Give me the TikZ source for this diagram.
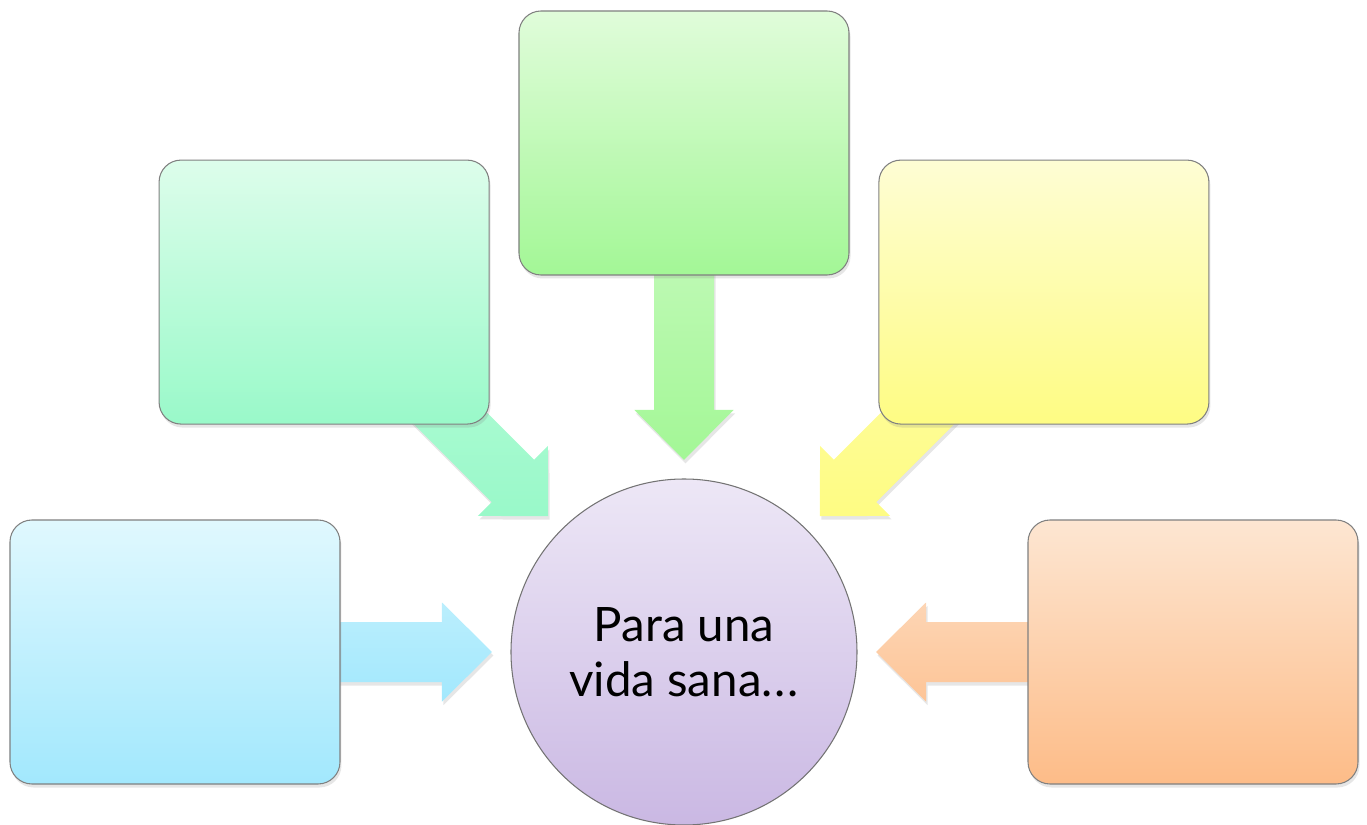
\documentclass[tikz,border=0pt]{standalone}
\usepackage{fontspec}
\setmainfont{Lato}
\usetikzlibrary{positioning,calc,shadows,backgrounds}

\definecolor{azultop}{HTML}{E0F8FE}
\definecolor{azulbot}{HTML}{A2E8FD}
\definecolor{mentatop}{HTML}{DDFDEB}
\definecolor{mentabot}{HTML}{99F9C9}
\definecolor{verdetop}{HTML}{E0FCDA}
\definecolor{verdebot}{HTML}{A3F796}
\definecolor{amartop}{HTML}{FEFDD4}
\definecolor{amarbot}{HTML}{FEFC83}
\definecolor{naratop}{HTML}{FDE6D2}
\definecolor{narabot}{HTML}{FDBC88}
\definecolor{lilatop}{HTML}{EDE7F6}
\definecolor{lilabot}{HTML}{CAB8E3}

\begin{document}
\begin{tikzpicture}[
                caja/.style={rectangle, rounded corners=0.44cm, minimum width=6.6cm, minimum height=5.28cm, draw=black!50, line width=0.6pt,
                    drop shadow={opacity=0.2, shadow xshift=0.03cm, shadow yshift=-0.07cm}},
                circulo/.style={circle, minimum size=6.92cm, draw=black!55, line width=0.6pt, top color=lilatop, bottom color=lilabot,
                    font=\fontsize{27}{31}\selectfont, align=center},
                flecha/.style={drop shadow={opacity=0.2, shadow xshift=0.03cm, shadow yshift=-0.07cm},
                    to path={let \p1=($(\tikztotarget)-(\tikztostart)$), \n1={atan2(\y1,\x1)} in
                    ($(\tikztostart)+(\n1+90:0.6)$)
                    -- ($(\tikztotarget)+(\n1+180:1)+(\n1+90:0.6)$)
                    -- ($(\tikztotarget)+(\n1+180:1)+(\n1+90:0.99)$)
                    -- (\tikztotarget)
                    -- ($(\tikztotarget)+(\n1+180:1)+(\n1-90:0.99)$)
                    -- ($(\tikztotarget)+(\n1+180:1)+(\n1-90:0.6)$)
                    -- ($(\tikztostart)+(\n1-90:0.6)$) -- cycle}}
            ]
            \useasboundingbox (-13.68,-3.44) rectangle (13.66,13.04);

            \node[circulo] (Vida) at (0,0) {Para una\\vida sana.\kern1pt.\kern1pt.};

            \node[caja, top color=azultop, bottom color=azulbot] (Caja_izq) at (180:10.18) {};
            \node[caja, top color=mentatop, bottom color=mentabot] (Caja_izq_arriba) at (135:10.18) {};
            \node[caja, top color=verdetop, bottom color=verdebot] (Caja_arriba) at (90:10.18) {};
            \node[caja, top color=amartop, bottom color=amarbot] (Caja_der_arriba) at (45:10.18) {};
            \node[caja, top color=naratop, bottom color=narabot] (Caja_der) at (0:10.18) {};

            \coordinate (Punta_izq) at (180:3.84);
            \coordinate (Punta_izq_arriba) at (135:3.84);
            \coordinate (Punta_arriba) at (90:3.84);
            \coordinate (Punta_der_arriba) at (45:3.84);
            \coordinate (Punta_der) at (0:3.84);

            \begin{pgfonlayer}{background}
            \shade[flecha, top color=azultop!40!azulbot, bottom color=azulbot] (Caja_izq.center) to (Punta_izq);
            \shade[flecha, top color=mentatop!50!mentabot, bottom color=mentabot] (Caja_izq_arriba.center) to (Punta_izq_arriba);
            \shade[flecha, top color=verdetop!70!verdebot, bottom color=verdebot] (Caja_arriba.center) to (Punta_arriba);
            \shade[flecha, top color=amartop!50!amarbot, bottom color=amarbot] (Caja_der_arriba.center) to (Punta_der_arriba);
            \shade[flecha, top color=naratop!60!narabot, bottom color=naratop!20!narabot] (Caja_der.center) to (Punta_der);
            \end{pgfonlayer}
        \end{tikzpicture}
\end{document}
